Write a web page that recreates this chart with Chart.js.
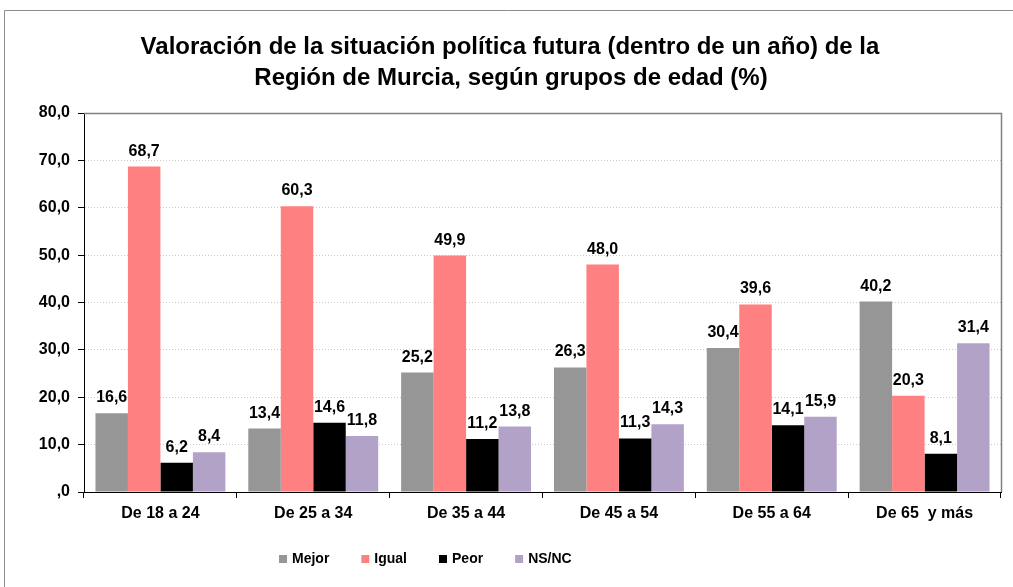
<!DOCTYPE html>
<html>
<head>
<meta charset="utf-8">
<script src="https://cdn.jsdelivr.net/npm/chart.js@4"></script>
<style>
  body { margin: 0; background: #fff; }
</style>
</head>
<body>
<canvas id="myChart" width="1013" height="587"></canvas>
<script>
const grupos = ['De 18 a 24', 'De 25 a 34', 'De 35 a 44', 'De 45 a 54', 'De 55 a 64', 'De 65  y más']
const mejor = [16.6, 13.4, 25.2, 26.3, 30.4, 40.2]
const igual = [68.7, 60.3, 49.9, 48.0, 39.6, 20.3]
const peor = [6.2, 14.6, 11.2, 11.3, 14.1, 8.1]
const nsnc = [8.4, 11.8, 13.8, 14.3, 15.9, 31.4]
const titulo = ['Valoración de la situación política futura (dentro de un año) de la',
                'Región de Murcia, según grupos de edad (%)']

const fuente = "'Liberation Sans', Arial, sans-serif"

function formato(v) {
  if (v === 0) return ',0'
  return v.toFixed(1).replace('.', ',')
}

// marco, titulo, etiquetas y leyenda
const extras = {
  id: 'extras',
  beforeDraw(chart) {
    const ctx = chart.ctx
    ctx.save()
    ctx.strokeStyle = '#8c8c8c'
    ctx.lineWidth = 1
    ctx.beginPath()
    ctx.moveTo(4.5, 587)
    ctx.lineTo(4.5, 10.5)
    ctx.lineTo(1013, 10.5)
    ctx.stroke()

    ctx.fillStyle = '#000'
    ctx.font = 'bold 24px ' + fuente
    ctx.textAlign = 'center'
    ctx.textBaseline = 'middle'
    ctx.fillText(titulo[0], 510, 47)
    ctx.fillText(titulo[1], 511, 78)
    ctx.restore()
  },
  afterDraw(chart) {
    const ctx = chart.ctx
    const a = chart.chartArea
    ctx.save()
    ctx.strokeStyle = '#808080'
    ctx.lineWidth = 1.5
    ctx.beginPath()
    ctx.moveTo(a.left, a.top + 0.5)
    ctx.lineTo(a.right + 0.5, a.top + 0.5)
    ctx.lineTo(a.right + 0.5, a.bottom)
    ctx.stroke()

    // etiquetas de valor
    ctx.fillStyle = '#000'
    ctx.font = 'bold 16px ' + fuente
    ctx.textAlign = 'center'
    ctx.textBaseline = 'alphabetic'
    chart.data.datasets.forEach((ds, i) => {
      chart.getDatasetMeta(i).data.forEach((bar, j) => {
        ctx.fillText(formato(ds.data[j]), bar.x, bar.y - 11)
      })
    })

    // leyenda
    ctx.font = 'bold 14px ' + fuente
    ctx.textAlign = 'left'
    ctx.textBaseline = 'middle'
    let x = 279
    const y = 559
    chart.data.datasets.forEach(ds => {
      ctx.fillStyle = ds.backgroundColor
      ctx.fillRect(x, y - 4, 8, 8)
      ctx.fillStyle = '#000'
      ctx.fillText(ds.label, x + 13, y)
      x += 13 + ctx.measureText(ds.label).width + 32
    })
    ctx.restore()
  }
}

const ctx = document.getElementById('myChart')

const data = {
  labels: grupos,
  datasets: [
    { label: 'Mejor', data: mejor, backgroundColor: '#969696' },
    { label: 'Igual', data: igual, backgroundColor: '#FF8080' },
    { label: 'Peor', data: peor, backgroundColor: '#000000' },
    { label: 'NS/NC', data: nsnc, backgroundColor: '#B3A2C7' }
  ]
}

var myChart = new Chart(ctx, {
  type: 'bar',
  data: data,
  plugins: [extras],
  options: {
    responsive: false,
    animation: false,
    layout: { padding: { top: 113, right: 12, bottom: 55, left: 0 } },
    datasets: {
      bar: { categoryPercentage: 0.85, barPercentage: 1, borderWidth: 0 }
    },
    plugins: {
      legend: { display: false },
      title: { display: false },
      tooltip: { enabled: false }
    },
    scales: {
      x: {
        afterFit: s => { s.height = 40 },
        grid: { offset: true, drawOnChartArea: false, tickLength: 6, color: '#000' },
        border: { color: '#000', width: 1 },
        ticks: { color: '#000', padding: 6, font: { family: fuente, size: 16, weight: 'bold' } }
      },
      y: {
        min: 0,
        max: 80,
        afterFit: s => { s.width = 84 },
        grid: { color: '#c8c8c8', tickLength: 6, tickColor: '#000', tickBorderDash: [] },
        border: { color: '#000', width: 1, dash: [1, 2] },
        ticks: {
          stepSize: 10,
          color: '#000',
          padding: 8,
          font: { family: fuente, size: 16, weight: 'bold' },
          callback: v => formato(v)
        }
      }
    }
  }
})
</script>
</body>
</html>
